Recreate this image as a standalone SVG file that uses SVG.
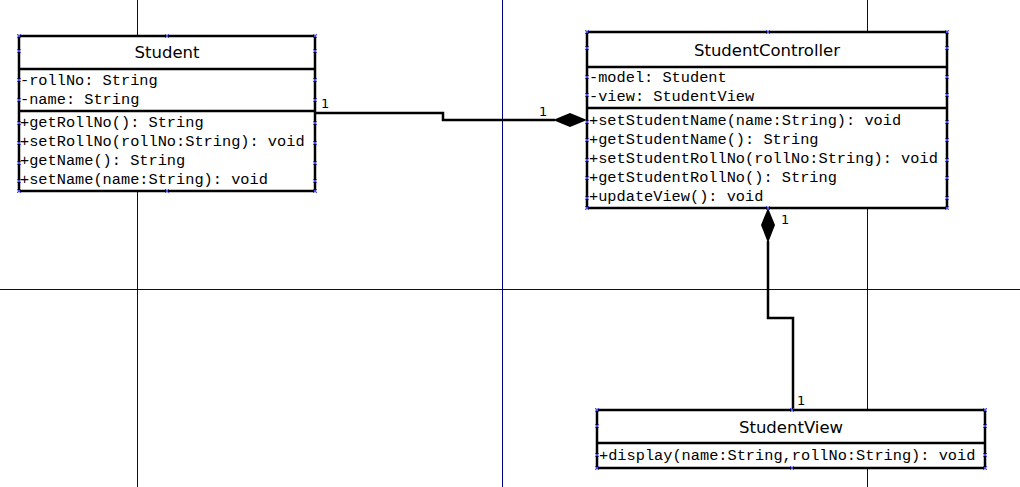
<svg xmlns="http://www.w3.org/2000/svg" width="1020" height="487" viewBox="0 0 1020 487">
<style>
.grid{stroke:#000080;stroke-width:1;fill:none}
.box{fill:#fff;stroke:#000;stroke-width:2.5}
.sep{stroke:#000;stroke-width:2.5}
.title{font-family:"DejaVu Sans",sans-serif;font-size:16.5px;text-anchor:middle;fill:#000}
.mem{font-family:"Liberation Mono","Courier New",monospace;font-size:15.3px;fill:#000}
.conn{stroke:#000;stroke-width:2.5;fill:none}
.mult{font-family:"DejaVu Sans",sans-serif;font-size:13px;fill:#000}
.h{stroke:#4a4aff;stroke-width:1;fill:none}
</style>
<defs>
<path id="x" class="h" d="M-2,-2L2,2M-2,2L2,-2"/>
</defs>
<rect width="1020" height="487" fill="#fff"/>
<g id="grid">
<line class="grid" x1="137.5" y1="0" x2="137.5" y2="487"/>
<line class="grid" x1="502.5" y1="0" x2="502.5" y2="487"/>
<line class="grid" x1="867.5" y1="0" x2="867.5" y2="487"/>
<line class="grid" x1="0" y1="289.5" x2="1020" y2="289.5"/>
</g>
<g id="connectors">
<polyline class="conn" points="315,113 443,113 443,120 555,120"/>
<polygon points="587,120 570,113 553,120 570,127" fill="#000"/>
<polyline class="conn" points="768,241 768,318 793,318 793,410"/>
<polygon points="768,208 775,225 768,243 761,225" fill="#000"/>
<text class="mult" x="321" y="108">1</text>
<text class="mult" x="539" y="116">1</text>
<text class="mult" x="781" y="224">1</text>
<text class="mult" x="797" y="405">1</text>
</g>
<g id="Student">
<rect class="box" x="19" y="36" width="296" height="155"/>
<line class="sep" x1="19" y1="69" x2="315" y2="69"/>
<line class="sep" x1="19" y1="111" x2="315" y2="111"/>
<text class="title" x="167" y="58">Student</text>
<text class="mem" x="20" y="85">-rollNo: String</text>
<text class="mem" x="20" y="104">-name: String</text>
<text class="mem" x="20" y="127">+getRollNo(): String</text>
<text class="mem" x="20" y="146">+setRollNo(rollNo:String): void</text>
<text class="mem" x="20" y="165">+getName(): String</text>
<text class="mem" x="20" y="184">+setName(name:String): void</text>
<use href="#x" x="19" y="36"/><use href="#x" x="167" y="36"/><use href="#x" x="315" y="36"/>
<use href="#x" x="19" y="191"/><use href="#x" x="167" y="191"/><use href="#x" x="315" y="191"/>
<use href="#x" x="19" y="51"/><use href="#x" x="19" y="80"/><use href="#x" x="19" y="100"/><use href="#x" x="19" y="123"/><use href="#x" x="19" y="143"/><use href="#x" x="19" y="163"/><use href="#x" x="19" y="181"/>
<use href="#x" x="315" y="51"/><use href="#x" x="315" y="80"/><use href="#x" x="315" y="100"/><use href="#x" x="315" y="123"/><use href="#x" x="315" y="143"/><use href="#x" x="315" y="163"/><use href="#x" x="315" y="181"/>
</g>
<g id="StudentController">
<rect class="box" x="587" y="32" width="360" height="176"/>
<line class="sep" x1="587" y1="67" x2="947" y2="67"/>
<line class="sep" x1="587" y1="108" x2="947" y2="108"/>
<text class="title" x="767" y="56">StudentController</text>
<text class="mem" x="589" y="82">-model: Student</text>
<text class="mem" x="589" y="101">-view: StudentView</text>
<text class="mem" x="589" y="125">+setStudentName(name:String): void</text>
<text class="mem" x="589" y="144">+getStudentName(): String</text>
<text class="mem" x="589" y="163">+setStudentRollNo(rollNo:String): void</text>
<text class="mem" x="589" y="182">+getStudentRollNo(): String</text>
<text class="mem" x="589" y="201">+updateView(): void</text>
<use href="#x" x="587" y="32"/><use href="#x" x="768" y="32"/><use href="#x" x="947" y="32"/>
<use href="#x" x="587" y="208"/><use href="#x" x="768" y="208"/><use href="#x" x="947" y="208"/>
<use href="#x" x="587" y="48"/><use href="#x" x="587" y="77"/><use href="#x" x="587" y="95"/><use href="#x" x="587" y="122"/><use href="#x" x="587" y="140"/><use href="#x" x="587" y="160"/><use href="#x" x="587" y="178"/><use href="#x" x="587" y="198"/>
<use href="#x" x="947" y="48"/><use href="#x" x="947" y="77"/><use href="#x" x="947" y="95"/><use href="#x" x="947" y="122"/><use href="#x" x="947" y="140"/><use href="#x" x="947" y="160"/><use href="#x" x="947" y="178"/><use href="#x" x="947" y="198"/>
</g>
<g id="StudentView">
<rect class="box" x="597" y="410" width="388" height="58"/>
<line class="sep" x1="597" y1="443" x2="985" y2="443"/>
<text class="title" x="791" y="433">StudentView</text>
<text class="mem" x="599" y="460">+display(name:String,rollNo:String): void</text>
<use href="#x" x="597" y="410"/><use href="#x" x="792" y="410"/><use href="#x" x="985" y="410"/>
<use href="#x" x="597" y="468"/><use href="#x" x="792" y="468"/><use href="#x" x="985" y="468"/>
<use href="#x" x="597" y="426"/><use href="#x" x="597" y="455"/>
<use href="#x" x="985" y="426"/><use href="#x" x="985" y="455"/>
</g>
</svg>
